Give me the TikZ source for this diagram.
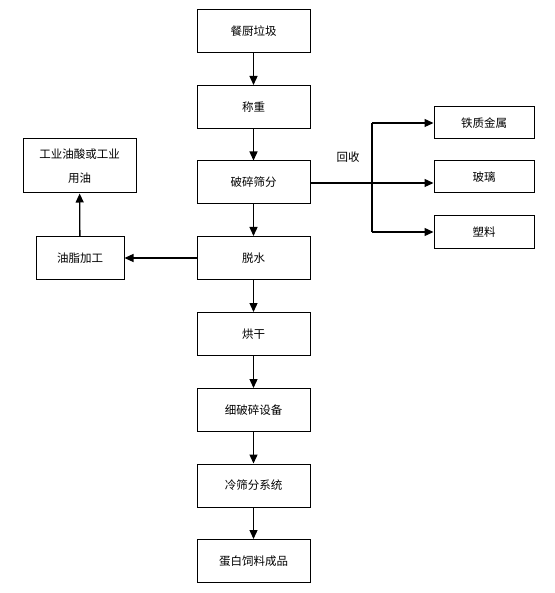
\documentclass[tikz,border=0pt]{standalone}
\usepackage{fontspec}
\setmainfont{Noto Sans CJK SC}
\usetikzlibrary{arrows.meta}
\begin{document}
\begin{tikzpicture}[x=1pt,y=-1pt,
  box/.style={draw,line width=1pt,minimum width=113pt,minimum height=43pt,inner sep=0pt,font=\fontsize{11.5}{24}\selectfont,align=center},
  sbox/.style={box,minimum width=100pt,minimum height=32pt},
  arr/.style={line width=1.3pt,-{Triangle[width=8pt,length=9pt]}},
  ln/.style={line width=1.3pt}]
\useasboundingbox (0,0) rectangle (554,593);
\node[box] (a) at (253.5,31) {餐厨垃圾};
\node[box] (b) at (253.5,107) {称重};
\node[box] (c) at (253.5,182.5) {破碎筛分};
\node[box] (d) at (253.5,258) {脱水};
\node[box] (e) at (253.5,334) {烘干};
\node[box] (f) at (253.5,410) {细破碎设备};
\node[box] (g) at (253.5,485.5) {冷筛分系统};
\node[box] (h) at (253.5,561) {蛋白饲料成品};
\node[box,minimum width=88pt,minimum height=42pt] (oil) at (80,258) {油脂加工};
\node[box,minimum width=113pt,minimum height=54pt] (ind) at (79.5,166) {工业油酸或工业\\用油};
\node[sbox] (m1) at (484,123) {铁质金属};
\node[sbox] (m2) at (484,177) {玻璃};
\node[sbox] (m3) at (484,232) {塑料};
\node[font=\fontsize{11.5}{14}\selectfont] (lbl) at (348,157) {回收};
\coordinate (j) at (372,183);
\draw[arr] (a) -- (b);
\draw[arr] (b) -- (c);
\draw[arr] (c) -- (d);
\draw[arr] (d) -- (e);
\draw[arr] (e) -- (f);
\draw[arr] (f) -- (g);
\draw[arr] (g) -- (h);
\draw[arr] (d) -- (oil);
\draw[arr] (oil) -- (ind);
\draw[arr] (c.east |- j) -- (m2.west |- j);
\draw[ln] (j |- m1) -- (j |- m3);
\draw[arr] (j |- m1) -- (m1.west);
\draw[arr] (j |- m3) -- (m3.west);
\end{tikzpicture}
\end{document}
